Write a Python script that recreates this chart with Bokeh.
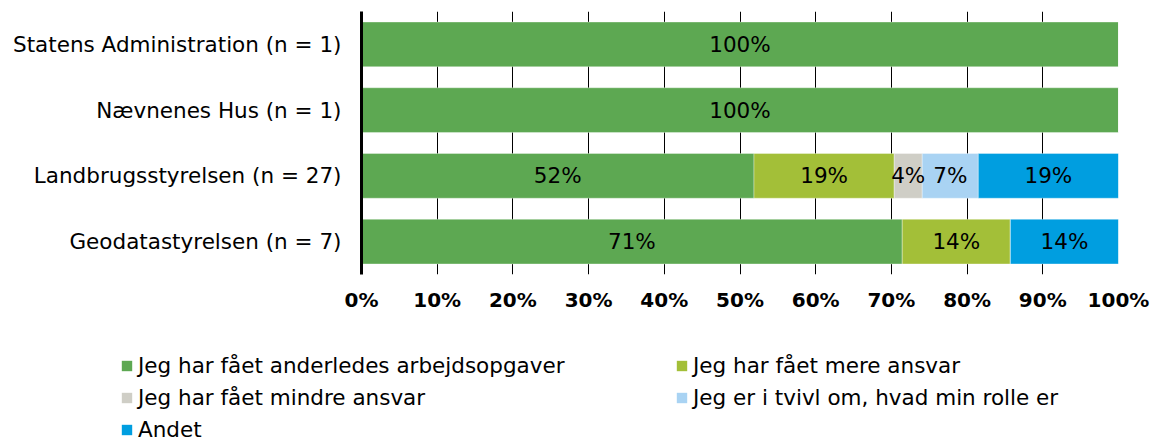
from bokeh.plotting import figure
from bokeh.layouts import column, row
from bokeh.models import (ColumnDataSource, FactorRange, Range1d, FixedTicker,
                          PrintfTickFormatter, Legend, LegendItem)
from bokeh.embed import file_html
from bokeh.resources import INLINE
from bokeh.core.properties import value

# ---- data ----
categories = ["Statens Administration (n = 1)", "Nævnenes Hus (n = 1)",
              "Landbrugsstyrelsen (n = 27)", "Geodatastyrelsen (n = 7)"]
series = ["Jeg har fået anderledes arbejdsopgaver", "Jeg har fået mere ansvar",
          "Jeg har fået mindre ansvar", "Jeg er i tvivl om, hvad min rolle er", "Andet"]
anderledes = [100.0, 100.0, 51.85, 71.43]
mere = [0.0, 0.0, 18.52, 14.29]
mindre = [0.0, 0.0, 3.70, 0.0]
tvivl = [0.0, 0.0, 7.41, 0.0]
andet = [0.0, 0.0, 18.52, 14.29]
x_ticks = [0, 10, 20, 30, 40, 50, 60, 70, 80, 90, 100]
colors = ["#5DA852", "#A3BF38", "#CFCEC6", "#A9D3F3", "#009EE0"]

FONT = "DejaVu Sans"
FS = "21.5px"

keys = ["s0", "s1", "s2", "s3", "s4"]
vals = [anderledes, mere, mindre, tvivl, andet]
data = {"cat": categories}
for k, v in zip(keys, vals):
    data[k] = v
src = ColumnDataSource(data)

p = figure(width=1152, height=320, output_backend="svg", toolbar_location=None,
           y_range=FactorRange(*reversed(categories)), x_range=Range1d(0, 100),
           min_border_left=361, min_border_right=34, min_border_top=11,
           min_border_bottom=46)
p.outline_line_color = None

rs = p.hbar_stack(keys, y="cat", height=0.68, color=colors, source=src,
                  line_color="white", line_alpha=0.35, line_width=1)

# segment labels
lx, ly, lt = [], [], []
for i, c in enumerate(categories):
    left = 0.0
    for v in vals:
        val = v[i]
        if val > 0:
            lx.append(left + val / 2)
            ly.append(c)
            lt.append(f"{val:.0f}%")
        left += val
p.text(x="x", y="y", text="t", source=ColumnDataSource(dict(x=lx, y=ly, t=lt)),
       text_align="center", text_baseline="middle", text_color="black",
       text_font=value(FONT), text_font_size=FS)

# axes
p.xaxis.ticker = FixedTicker(ticks=x_ticks)
p.xaxis.formatter = PrintfTickFormatter(format="%d%%")
p.xaxis.axis_line_color = None
p.xaxis.major_tick_line_color = None
p.xaxis.major_tick_out = 0
p.xaxis.major_tick_in = 0
p.xaxis.minor_tick_line_color = None
p.xaxis.major_label_text_font = FONT
p.xaxis.major_label_text_font_size = "20px"
p.xaxis.major_label_text_font_style = "bold"
p.xaxis.major_label_text_color = "black"
p.xaxis.major_label_standoff = 13

p.yaxis.axis_line_color = "black"
p.yaxis.axis_line_width = 3
p.yaxis.major_tick_line_color = None
p.yaxis.major_tick_out = 0
p.yaxis.major_tick_in = 0
p.yaxis.minor_tick_line_color = None
p.yaxis.major_label_text_font = FONT
p.yaxis.major_label_text_font_size = FS
p.yaxis.major_label_text_color = "black"
p.yaxis.major_label_standoff = 20

p.ygrid.grid_line_color = None
p.xgrid.grid_line_color = "black"
p.xgrid.grid_line_width = 1

# legend panel (placeholder swatch glyphs of zero size carry the colours)
pl = figure(width=1152, height=123, output_backend="svg", toolbar_location=None,
            x_range=Range1d(0, 1), y_range=Range1d(0, 1),
            min_border_left=0, min_border_right=0, min_border_top=0, min_border_bottom=0)
pl.axis.visible = False
pl.grid.visible = False
pl.outline_line_color = None
dummies = [pl.hbar(y=[0.5], left=[0], right=[0], height=0, fill_color=c, line_color=None)
           for c in colors]
legend = Legend(items=[LegendItem(label=s, renderers=[r]) for s, r in zip(series, dummies)],
                location=(120, 1), orientation="horizontal", ncols=2,
                glyph_width=13, glyph_height=13, label_standoff=5, label_width=530,
                spacing=7, padding=0, margin=0, border_line_color=None,
                background_fill_alpha=0, label_text_font=FONT,
                label_text_font_size=FS, label_text_color="black")
pl.add_layout(legend, "center")

layout = column(p, row(pl, spacing=0), spacing=0)
open("out.html", "w").write(file_html(layout, INLINE))
